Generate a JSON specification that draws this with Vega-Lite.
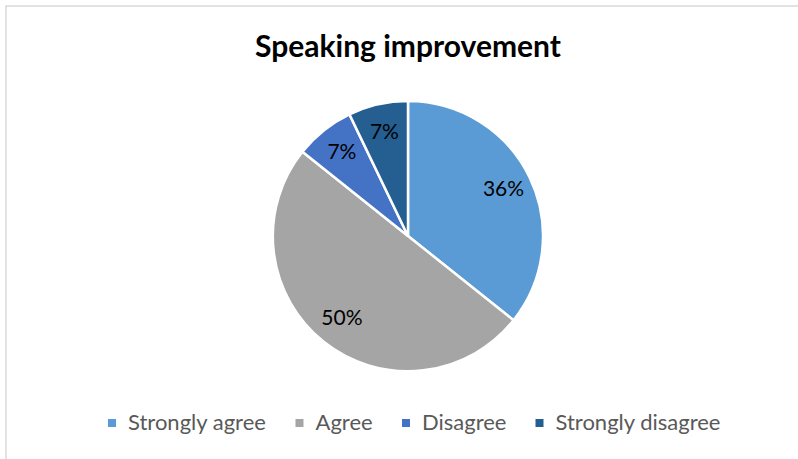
{
  "$schema": "https://vega.github.io/schema/vega-lite/v6.json",
  "autosize": "none",
  "width": 804,
  "height": 460,
  "padding": {"left": 6, "top": 6, "right": 0, "bottom": 0},
  "background": "white",
  "view": {"stroke": "#d9d9d9", "strokeWidth": 1.5},
  "title": {
    "text": "Speaking improvement",
    "font": "Lato",
    "fontSize": 30,
    "fontWeight": "bold",
    "color": "#000000",
    "anchor": "middle",
    "offset": -57
  },
  "data": {
    "values": [
      {"response": "Strongly agree", "count": 5, "label": "36%", "rank": 1},
      {"response": "Agree", "count": 7, "label": "50%", "rank": 2},
      {"response": "Disagree", "count": 1, "label": "7%", "rank": 3},
      {"response": "Strongly disagree", "count": 1, "label": "7%", "rank": 4}
    ]
  },
  "encoding": {
    "theta": {"field": "count", "type": "quantitative", "stack": true},
    "order": {"field": "rank", "type": "quantitative"},
    "color": {
      "field": "response",
      "type": "nominal",
      "sort": ["Strongly agree", "Agree", "Disagree", "Strongly disagree"],
      "scale": {
        "domain": ["Strongly agree", "Agree", "Disagree", "Strongly disagree"],
        "range": ["#5B9BD5", "#A5A5A5", "#4472C4", "#255E91"]
      },
      "legend": {
        "title": null,
        "orient": "none",
        "direction": "horizontal",
        "legendX": 95,
        "legendY": 406,
        "symbolType": "square",
        "symbolSize": 64,
        "symbolStrokeWidth": 0,
        "labelFont": "Lato",
        "labelFontSize": 22,
        "labelColor": "#595959",
        "labelOffset": 5,
        "labelLimit": 400,
        "columnPadding": 21.5
      }
    }
  },
  "layer": [
    {
      "mark": {"type": "arc", "outerRadius": 135, "stroke": "white", "strokeWidth": 2.5}
    },
    {
      "mark": {"type": "text", "radius": 106, "font": "Lato", "fontSize": 21, "color": "#000000"},
      "encoding": {
        "text": {"field": "label", "type": "nominal"},
        "color": {"value": "#000000"}
      }
    }
  ]
}
